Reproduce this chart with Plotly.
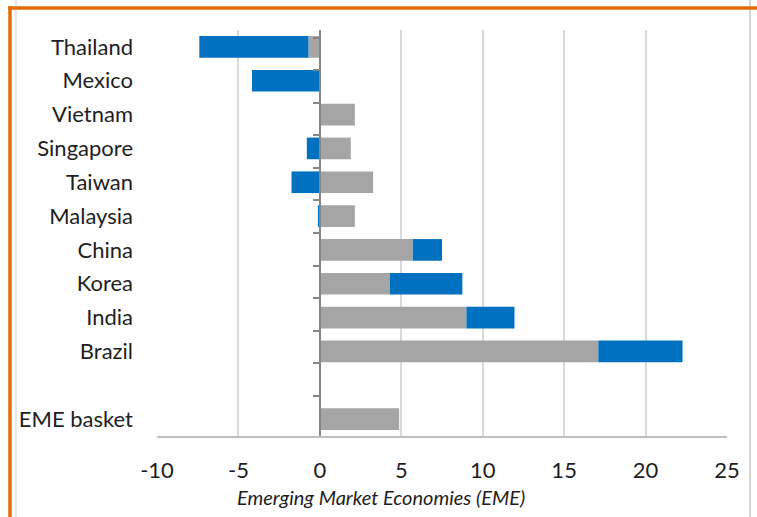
import plotly.graph_objects as go

categories = ["Thailand", "Mexico", "Vietnam", "Singapore", "Taiwan", "Malaysia",
              "China", "Korea", "India", "Brazil", " ", "EME basket"]
gray_values = [-0.7, 0.0, 2.15, 1.9, 3.27, 2.15, 5.7, 4.3, 9.0, 17.1, None, 4.87]
blue_values = [-6.7, -4.17, 0.0, -0.8, -1.74, -0.12, 1.8, 4.45, 2.95, 5.17, None, 0.0]
x_ticks = [-10, -5, 0, 5, 10, 15, 20, 25]

GRAY = "#A5A5A5"
BLUE = "#0070C0"
FONT = "Lato"
TXT = "#1E1E1E"

fig = go.Figure()
fig.add_trace(go.Bar(y=categories, x=gray_values, orientation="h",
                     marker=dict(color=GRAY, line=dict(width=0)), showlegend=False))
fig.add_trace(go.Bar(y=categories, x=blue_values, orientation="h",
                     marker=dict(color=BLUE, line=dict(width=0)), showlegend=False))
# invisible trace carrying the zero-position category axis with boundary ticks
fig.add_trace(go.Scatter(y=categories, x=[None] * len(categories), yaxis="y2",
                         mode="markers", showlegend=False, hoverinfo="skip"))

L, R, T, B = 157, 30, 30, 81
W, H = 757, 517
pw, ph = W - L - R, H - T - B

def px(x):
    return (x - L) / pw

def py(y):
    return (H - B - y) / ph

fig.update_layout(
    width=W, height=H,
    margin=dict(l=L, r=R, t=T, b=B, pad=0),
    paper_bgcolor="white", plot_bgcolor="white",
    barmode="relative", bargap=0.36,
    font=dict(family=FONT, size=22, color=TXT),
    xaxis=dict(range=[-10, 25], tickvals=x_ticks, ticktext=[str(v) for v in x_ticks],
               showgrid=True, gridcolor="#D9D9D9", gridwidth=1.5,
               zeroline=False, showline=True, linecolor="#BFBFBF", linewidth=1.5,
               ticks="outside", ticklen=14, tickcolor="rgba(0,0,0,0)",
               tickfont=dict(family=FONT, size=22, color=TXT)),
    yaxis=dict(type="category", categoryarray=categories, autorange="reversed",
               showgrid=False, zeroline=False, showline=False, ticks="",
               ticklabelstandoff=23,
               tickfont=dict(family=FONT, size=22, color=TXT)),
    yaxis2=dict(type="category", categoryarray=categories, autorange="reversed",
                overlaying="y", anchor="free", position=10 / 35, side="left",
                showgrid=False, zeroline=False, showline=True, linecolor="#868686",
                linewidth=1.5, ticks="outside", tickson="boundaries", ticklen=6,
                tickcolor="#868686", tickwidth=1.5, showticklabels=False),
    annotations=[dict(text="<i>Emerging Market Economies (EME)</i>", xref="paper", yref="paper",
                      x=px(381), y=py(497), xanchor="center", yanchor="middle",
                      showarrow=False, font=dict(family=FONT, size=20, color=TXT))],
    shapes=[
        dict(type="line", xref="paper", yref="paper", x0=px(16), x1=px(16), y0=py(0), y1=py(517),
             line=dict(color="#D0D0D0", width=1)),
        dict(type="line", xref="paper", yref="paper", x0=px(750), x1=px(750), y0=py(0), y1=py(517),
             line=dict(color="#C8C8C8", width=1.5)),
        dict(type="line", xref="paper", yref="paper", x0=px(8), x1=px(757), y0=py(8), y1=py(8),
             line=dict(color="#E36C0A", width=3.5)),
        dict(type="line", xref="paper", yref="paper", x0=px(10), x1=px(10), y0=py(6.5), y1=py(517),
             line=dict(color="#E36C0A", width=3.5)),
    ],
)

fig.write_html("out.html", config={"displayModeBar": False},
               post_script="document.body.style.margin='0';document.body.style.padding='0';")
